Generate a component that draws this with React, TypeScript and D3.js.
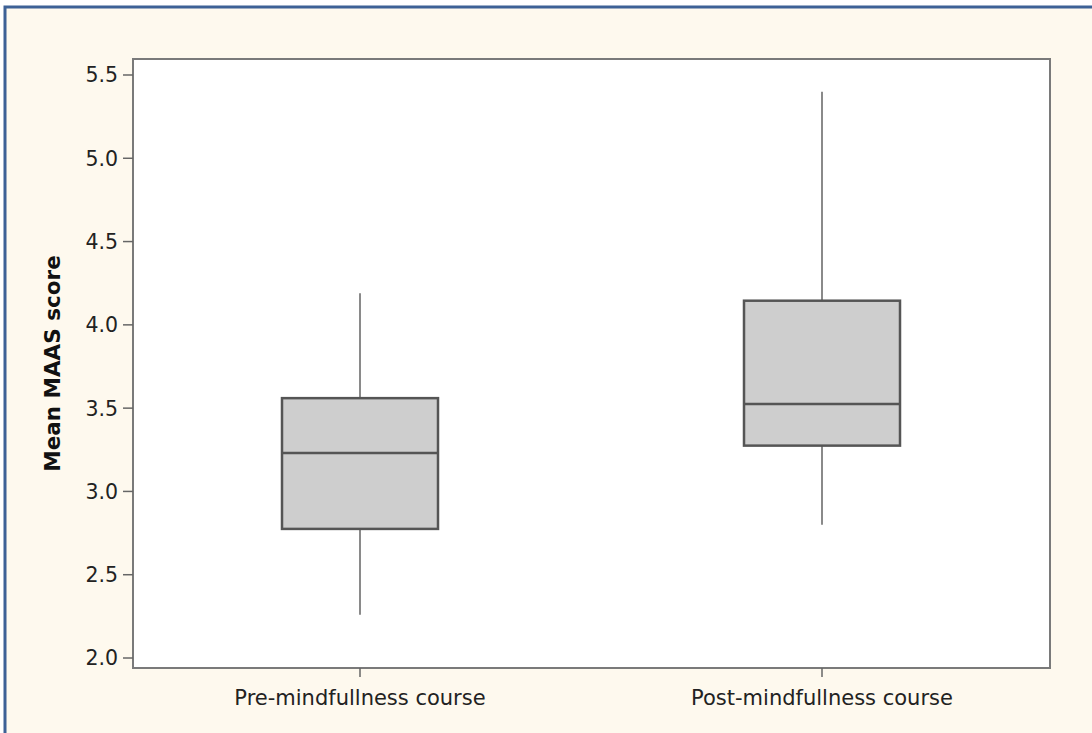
import React from 'react';
import * as d3 from 'd3';

const groups = ['Pre-mindfullness course', 'Post-mindfullness course'];
const whiskerLow = [2.26, 2.8];
const q1 = [2.775, 3.275];
const median = [3.23, 3.525];
const q3 = [3.56, 4.145];
const whiskerHigh = [4.19, 5.4];
const yTicks = [2.0, 2.5, 3.0, 3.5, 4.0, 4.5, 5.0, 5.5];

const width = 1092;
const height = 733;
const plot = { left: 133, top: 59, right: 1050, bottom: 668 };

export default () => {
  const yScale = d3.scaleLinear().domain([1.94, 5.596]).range([plot.bottom, plot.top]);
  const xScale = d3
    .scalePoint()
    .domain(groups)
    .range([360, 822]);
  const boxWidth = 156;

  const boxes = groups.map((g, i) => ({
    name: g,
    x: xScale(g),
    lo: yScale(whiskerLow[i]),
    q1: yScale(q1[i]),
    med: yScale(median[i]),
    q3: yScale(q3[i]),
    hi: yScale(whiskerHigh[i]),
  }));

  const font = 'Tahoma, "DejaVu Sans", Verdana, sans-serif';

  return (
    <div style={{ position: 'fixed', top: 0, left: 0 }}>
      <svg width={width} height={height} style={{ display: 'block' }}>
        <rect x={0} y={0} width={width} height={height} fill="#ffffff" />
        <rect x={5} y={7} width={width + 20} height={height + 20} fill="#fef9ee" stroke="#3d6196" strokeWidth={3} />
        <rect
          x={plot.left}
          y={plot.top}
          width={plot.right - plot.left}
          height={plot.bottom - plot.top}
          fill="#ffffff"
          stroke="#7a7a7a"
          strokeWidth={2}
        />
        {yTicks.map(t => (
          <g key={t}>
            <line x1={plot.left - 10} x2={plot.left} y1={yScale(t)} y2={yScale(t)} stroke="#666" strokeWidth={1.5} />
            <text
              x={plot.left - 15}
              y={yScale(t)}
              dy="0.36em"
              textAnchor="end"
              fontFamily={font}
              fontSize={20.5}
              fill="#222"
            >
              {t.toFixed(1)}
            </text>
          </g>
        ))}
        {boxes.map(b => (
          <g key={b.name}>
            <line x1={b.x} x2={b.x} y1={plot.bottom} y2={plot.bottom + 9} stroke="#666" strokeWidth={1.5} />
            <text
              x={b.x}
              y={697}
              dy="0.36em"
              textAnchor="middle"
              fontFamily={font}
              fontSize={21}
              fill="#222"
            >
              {b.name}
            </text>
            <line x1={b.x} x2={b.x} y1={b.hi} y2={b.q3} stroke="#8a8a8a" strokeWidth={2} />
            <line x1={b.x} x2={b.x} y1={b.q1} y2={b.lo} stroke="#8a8a8a" strokeWidth={2} />
            <rect
              x={b.x - boxWidth / 2}
              y={b.q3}
              width={boxWidth}
              height={b.q1 - b.q3}
              fill="#cecece"
              stroke="#555"
              strokeWidth={2.5}
            />
            <line
              x1={b.x - boxWidth / 2}
              x2={b.x + boxWidth / 2}
              y1={b.med}
              y2={b.med}
              stroke="#555"
              strokeWidth={2.5}
            />
          </g>
        ))}
        <text
          transform={`translate(52,${(plot.top + plot.bottom) / 2}) rotate(-90)`}
          textAnchor="middle"
          dy="0.36em"
          fontFamily={font}
          fontSize={21.5}
          fontWeight="bold"
          fill="#111"
        >
          Mean MAAS score
        </text>
      </svg>
    </div>
  );
};
